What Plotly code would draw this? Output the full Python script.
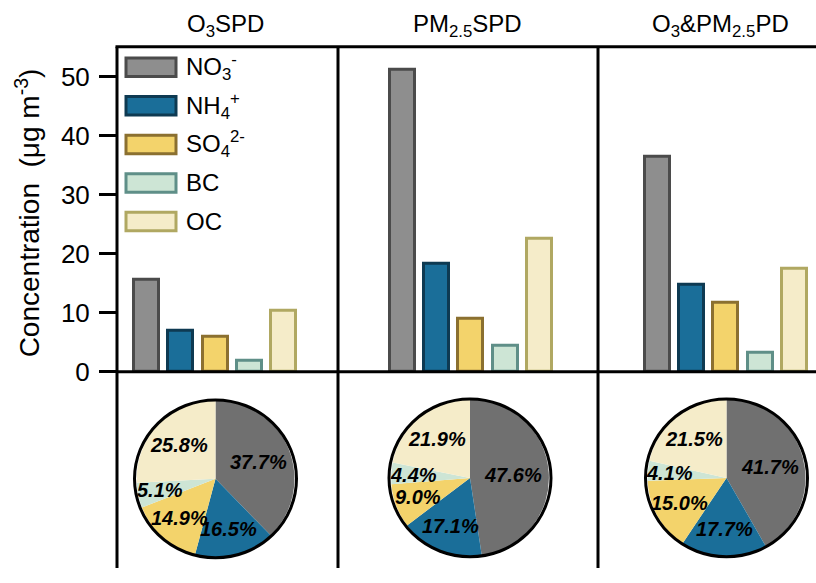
import math
import plotly.graph_objects as go

# ---------------- data ----------------
species = ["NO3", "NH4", "SO4", "BC", "OC"]
legend_labels = ["NO<sub>3</sub><sup>-</sup>", "NH<sub>4</sub><sup>+</sup>",
                 "SO<sub>4</sub><sup>2-</sup>", "BC", "OC"]
panel_titles = ["O<sub>3</sub>SPD", "PM<sub>2.5</sub>SPD", "O<sub>3</sub>&PM<sub>2.5</sub>PD"]

conc_o3spd = [15.6, 7.0, 5.9, 1.9, 10.3]
conc_pm25spd = [51.2, 18.3, 9.0, 4.4, 22.6]
conc_both = [36.4, 14.8, 11.7, 3.2, 17.4]

pct_o3spd = [37.7, 16.5, 14.9, 5.1, 25.8]
pct_pm25spd = [47.6, 17.1, 9.0, 4.4, 21.9]
pct_both = [41.7, 17.7, 15.0, 4.1, 21.5]

y_ticks = [0, 10, 20, 30, 40, 50]
y_title = "Concentration  (μg m<sup>-3</sup>)"

# ---------------- style ----------------
bar_fill = ["#8e8e8e", "#1a6e99", "#f3d36b", "#cde5d5", "#f5ecc9"]
bar_line = ["#4b4b4b", "#0e3a52", "#8b7030", "#5f8f88", "#b0a862"]
pie_fill = ["#707070", "#1a6e99", "#f3d36b", "#cde5d5", "#f5ecc9"]

W, H = 816, 583
FONT = "Liberation Sans, Arial, sans-serif"


def px(x):
    return x / W


def py(y):
    return 1 - y / H


top_y, base_y = 48, 381.5
panel_edges = [117, 338, 598, W]
x_ranges = [[-0.86, 5.58], [-1.87, 5.71], [-1.73, 4.63]]
pie_centers = [(215.5, 491.5), (470, 490.5), (726.5, 490.5)]
pie_R = 81

concs = [conc_o3spd, conc_pm25spd, conc_both]
pcts = [pct_o3spd, pct_pm25spd, pct_both]

fig = go.Figure()
layout_axes = {}
for i in range(3):
    xa = "x" if i == 0 else f"x{i+1}"
    ya = "y" if i == 0 else f"y{i+1}"
    fig.add_trace(go.Bar(
        x=list(range(len(species))), y=concs[i], width=0.73,
        marker=dict(color=bar_fill, line=dict(color=bar_line, width=3)),
        xaxis=xa, yaxis=ya, showlegend=False, hoverinfo="skip"))
    xkey = "xaxis" if i == 0 else f"xaxis{i+1}"
    ykey = "yaxis" if i == 0 else f"yaxis{i+1}"
    layout_axes[xkey] = dict(domain=[px(panel_edges[i]), px(panel_edges[i+1])],
                             range=x_ranges[i], visible=False, anchor=ya, fixedrange=True)
    layout_axes[ykey] = dict(domain=[py(base_y), py(top_y)], range=[0, 55.1],
                             anchor=xa, showgrid=False, zeroline=False, showline=False,
                             ticks="outside" if i == 0 else "", ticklen=17, tickwidth=3,
                             tickcolor="black", tickvals=y_ticks,
                             showticklabels=(i == 0), ticklabelstandoff=4,
                             tickfont=dict(family=FONT, size=26, color="black"))

    # pie
    cx, cy = pie_centers[i]
    fig.add_trace(go.Pie(
        values=pcts[i], labels=species, sort=False, direction="clockwise", rotation=0,
        marker=dict(colors=pie_fill, line=dict(width=0)),
        textinfo="none", hoverinfo="skip", showlegend=False,
        domain=dict(x=[px(cx - pie_R), px(cx + pie_R)], y=[py(cy + pie_R), py(cy - pie_R)])))

fig.update_layout(**layout_axes)

shapes = []
line_w = 3
# frame lines
shapes.append(dict(type="line", xref="paper", yref="paper", x0=px(panel_edges[0] - 1.5), x1=1.0,
                   y0=py(top_y), y1=py(top_y), line=dict(color="black", width=line_w)))
shapes.append(dict(type="line", xref="paper", yref="paper", x0=px(panel_edges[0]), x1=1.0,
                   y0=py(base_y), y1=py(base_y), line=dict(color="black", width=line_w)))
for xe in panel_edges[:3]:
    shapes.append(dict(type="line", xref="paper", yref="paper", x0=px(xe), x1=px(xe),
                       y0=py(top_y), y1=0, line=dict(color="black", width=line_w)))

annotations = []
title_x = [225, 468, 720]
# pie outlines and labels
for i in range(3):
    cx, cy = pie_centers[i]
    shapes.append(dict(type="circle", xref="paper", yref="paper",
                       x0=px(cx - pie_R), x1=px(cx + pie_R), y0=py(cy + pie_R), y1=py(cy - pie_R),
                       line=dict(color="black", width=3)))
    cum = 0.0
    for v in pcts[i]:
        mid = (cum + v / 2) / 100 * 2 * math.pi
        r = pie_R * (0.72 - 0.4 * v / 100)
        lx = cx + r * math.sin(mid)
        ly = cy - r * math.cos(mid)
        annotations.append(dict(x=px(lx), y=py(ly), xref="paper", yref="paper",
                                text=f"<b><i>{v:.1f}%</i></b>", showarrow=False,
                                font=dict(family=FONT, size=20, color="black"),
                                xanchor="center", yanchor="middle"))
        cum += v
    # panel title
    annotations.append(dict(x=px(title_x[i]), y=py(26), xref="paper", yref="paper",
                            text=panel_titles[i], showarrow=False,
                            font=dict(family=FONT, size=24, color="black"),
                            xanchor="center", yanchor="middle"))

# legend (custom)
for k, lab in enumerate(legend_labels):
    yc = 69 + k * 39.6
    shapes.append(dict(type="rect", xref="paper", yref="paper",
                       x0=px(126), x1=px(176), y0=py(yc + 9.5), y1=py(yc - 9.5),
                       fillcolor=bar_fill[k], line=dict(color=bar_line[k], width=3)))
    annotations.append(dict(x=px(184), y=py(yc), xref="paper", yref="paper", text=lab,
                            showarrow=False, font=dict(family=FONT, size=24, color="black"),
                            xanchor="left", yanchor="middle"))

# y-axis title
annotations.append(dict(x=px(28), y=py(219), xref="paper", yref="paper",
                        text=y_title, textangle=-90,
                        showarrow=False, font=dict(family=FONT, size=28, color="black"),
                        xanchor="center", yanchor="middle"))

fig.update_layout(width=W, height=H, margin=dict(l=0, r=0, t=0, b=0),
                  paper_bgcolor="white", plot_bgcolor="rgba(0,0,0,0)",
                  shapes=shapes, annotations=annotations, showlegend=False,
                  bargap=0)

fig.write_html("out.html")
